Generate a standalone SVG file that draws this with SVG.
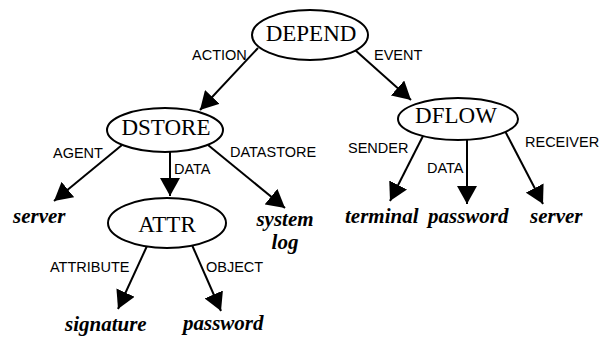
<svg xmlns="http://www.w3.org/2000/svg" width="600" height="339" viewBox="0 0 600 339">
<style>
.node ellipse{fill:#fff;stroke:#000;stroke-width:2}
.nt{font-family:"Liberation Serif",serif;font-size:23px;text-anchor:middle;fill:#000}
.leaf{font-family:"Liberation Serif",serif;font-size:21px;font-weight:bold;font-style:italic;fill:#000}
.lbl{font-family:"Liberation Sans",Arial,sans-serif;font-size:14.5px;fill:#000}
.edge line{stroke:#000;stroke-width:2;marker-end:url(#ah)}
</style>
<defs>
<marker id="ah" markerUnits="userSpaceOnUse" markerWidth="19" markerHeight="20" refX="18" refY="10" orient="auto" viewBox="0 0 19 20">
<path d="M0,0 L18,10 L0,20 z" fill="#000"/>
</marker>
</defs>
<rect width="600" height="339" fill="#fff"/>
<g id="connectors" class="edge">
<line x1="258" y1="48" x2="200" y2="110"/>
<line x1="355" y1="50" x2="411" y2="100"/>
<line x1="122" y1="145" x2="54" y2="201"/>
<line x1="170" y1="150" x2="170" y2="196"/>
<line x1="208" y1="145" x2="285" y2="208"/>
<line x1="423" y1="136" x2="390" y2="201"/>
<line x1="467" y1="139" x2="467" y2="204"/>
<line x1="505" y1="131" x2="543" y2="204"/>
<line x1="147" y1="246" x2="118" y2="309"/>
<line x1="192" y1="245" x2="221" y2="311"/>
</g>
<g id="labels" class="lbl">
<text x="192" y="60">ACTION</text>
<text x="374" y="60">EVENT</text>
<text x="53" y="158">AGENT</text>
<text x="174" y="174">DATA</text>
<text x="230" y="157">DATASTORE</text>
<text x="348" y="153">SENDER</text>
<text x="427" y="173">DATA</text>
<text x="525" y="147">RECEIVER</text>
<text x="50" y="272">ATTRIBUTE</text>
<text x="206" y="272">OBJECT</text>
</g>
<g id="depend" class="node"><ellipse cx="310" cy="35" rx="58" ry="25"/><text class="nt" x="311" y="41">DEPEND</text></g>
<g id="dstore" class="node"><ellipse cx="165" cy="130" rx="58" ry="22"/><text class="nt" x="166" y="135">DSTORE</text></g>
<g id="dflow" class="node"><ellipse cx="458" cy="119" rx="60" ry="21"/><text class="nt" x="456" y="123">DFLOW</text></g>
<g id="attr" class="node"><ellipse cx="167" cy="223" rx="59" ry="25"/><text class="nt" x="167" y="232">ATTR</text></g>
<g id="server1"><text class="leaf" x="13" y="223">server</text></g>
<g id="systemlog"><text class="leaf" x="285" y="226" text-anchor="middle">system</text><text class="leaf" x="285" y="249" text-anchor="middle">log</text></g>
<g id="terminal"><text class="leaf" x="345" y="223">terminal</text></g>
<g id="password1"><text class="leaf" x="428" y="223">password</text></g>
<g id="server2"><text class="leaf" x="530" y="223">server</text></g>
<g id="signature"><text class="leaf" x="65" y="331">signature</text></g>
<g id="password2"><text class="leaf" x="183" y="330">password</text></g>
</svg>
